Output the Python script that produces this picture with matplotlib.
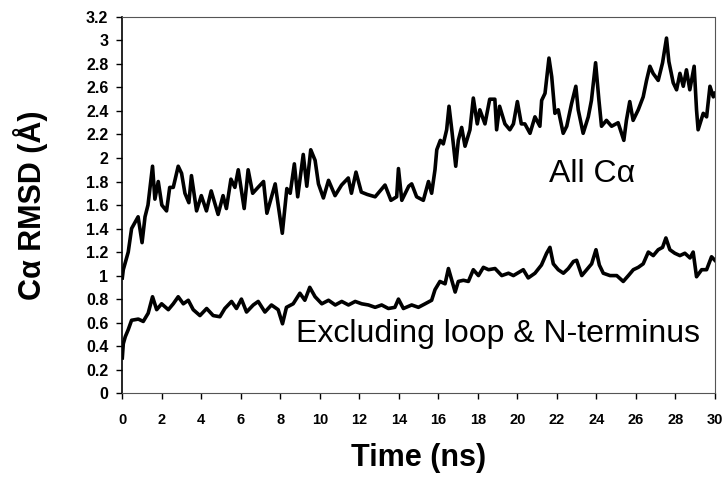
import matplotlib
matplotlib.use("Agg")
import matplotlib.pyplot as plt
from matplotlib.ticker import FuncFormatter, MultipleLocator

plt.rcParams.update({"font.family": ["Liberation Sans", "DejaVu Sans"], "font.size": 10})

# All C-alpha trace (time in ns, RMSD in A)
t_all = [0.0, 0.05, 0.3, 0.47, 0.8, 1.0, 1.15, 1.3, 1.53, 1.65, 1.82, 2.0, 2.24, 2.4, 2.58,
         2.83, 3.0, 3.17, 3.37, 3.5, 3.76, 4.0, 4.26, 4.5, 4.85, 5.1, 5.27, 5.5, 5.7, 5.87,
         6.17, 6.37, 6.6, 6.87, 7.15, 7.32, 7.74, 7.9, 8.1, 8.33, 8.5, 8.71, 8.88, 9.16,
         9.34, 9.54, 9.76, 9.93, 10.18, 10.44, 10.77, 11.1, 11.44, 11.6, 11.83, 12.1, 12.4,
         12.8, 13.3, 13.6, 13.89, 13.98, 14.15, 14.5, 14.65, 14.9, 15.24, 15.5, 15.66, 15.83,
         15.92, 16.1, 16.25, 16.42, 16.54, 16.68, 16.88, 17.01, 17.18, 17.35, 17.6, 17.77,
         17.97, 18.1, 18.36, 18.6, 18.86, 18.95, 19.1, 19.37, 19.62, 19.8, 20.0, 20.2, 20.38,
         20.64, 20.89, 21.14, 21.23, 21.4, 21.6, 21.74, 21.9, 22.07, 22.32, 22.5, 22.74,
         22.96, 23.08, 23.33, 23.59, 23.75, 23.96, 24.13, 24.26, 24.51, 24.77, 25.1, 25.39,
         25.52, 25.69, 25.86, 26.12, 26.37, 26.54, 26.71, 26.87, 27.13, 27.35, 27.55, 27.67,
         27.89, 28.06, 28.23, 28.4, 28.56, 28.73, 28.95, 29.07, 29.15, 29.41, 29.58, 29.75,
         29.92, 30.0]
rmsd_all = [0.98, 1.05, 1.2, 1.4, 1.5, 1.28, 1.5, 1.6, 1.93, 1.65, 1.8, 1.6, 1.55, 1.75, 1.75,
            1.93, 1.87, 1.7, 1.62, 1.85, 1.55, 1.68, 1.55, 1.72, 1.52, 1.68, 1.57, 1.82, 1.75,
            1.9, 1.57, 1.9, 1.7, 1.75, 1.8, 1.53, 1.78, 1.59, 1.36, 1.74, 1.7, 1.95, 1.67, 2.03,
            1.76, 2.07, 1.98, 1.78, 1.66, 1.81, 1.68, 1.77, 1.83, 1.7, 1.88, 1.71, 1.69, 1.67,
            1.77, 1.64, 1.67, 1.91, 1.64, 1.76, 1.78, 1.67, 1.64, 1.8, 1.7, 1.9, 2.07, 2.15,
            2.12, 2.24, 2.44, 2.24, 1.93, 2.15, 2.26, 2.1, 2.24, 2.51, 2.29, 2.41, 2.29, 2.5,
            2.5, 2.24, 2.44, 2.29, 2.24, 2.29, 2.48, 2.29, 2.29, 2.21, 2.35, 2.27, 2.49, 2.55,
            2.85, 2.69, 2.38, 2.41, 2.21, 2.27, 2.46, 2.61, 2.41, 2.21, 2.35, 2.49, 2.81, 2.49,
            2.27, 2.32, 2.27, 2.3, 2.15, 2.32, 2.48, 2.32, 2.41, 2.52, 2.66, 2.78, 2.72, 2.66,
            2.81, 3.02, 2.82, 2.64, 2.58, 2.72, 2.61, 2.75, 2.58, 2.78, 2.41, 2.24, 2.38, 2.35,
            2.61, 2.52, 2.55]

# Excluding loop & N-terminus trace
t_core = [0.0, 0.05, 0.15, 0.3, 0.47, 0.81, 1.06, 1.31, 1.53, 1.74, 1.99, 2.33, 2.58, 2.83,
          3.09, 3.34, 3.59, 3.93, 4.27, 4.6, 4.94, 5.19, 5.53, 5.78, 6.03, 6.29, 6.63, 6.88,
          7.22, 7.55, 7.89, 8.11, 8.31, 8.65, 8.99, 9.24, 9.49, 9.76, 10.1, 10.44, 10.78,
          11.11, 11.45, 11.79, 12.12, 12.46, 12.8, 13.13, 13.47, 13.8, 13.98, 14.23, 14.65,
          14.99, 15.33, 15.66, 15.83, 16.08, 16.34, 16.51, 16.68, 16.85, 17.01, 17.27, 17.52,
          17.77, 18.03, 18.28, 18.54, 18.87, 19.21, 19.55, 19.8, 20.0, 20.3, 20.55, 20.89,
          21.22, 21.48, 21.65, 21.82, 22.07, 22.33, 22.58, 22.84, 23.0, 23.26, 23.51, 23.76,
          23.98, 24.15, 24.35, 24.69, 25.03, 25.36, 25.62, 25.87, 26.12, 26.37, 26.63, 26.88,
          27.13, 27.35, 27.52, 27.72, 27.97, 28.23, 28.48, 28.74, 28.9, 29.07, 29.33, 29.58,
          29.83, 30.0]
rmsd_core = [0.3, 0.42, 0.48, 0.54, 0.62, 0.63, 0.61, 0.68, 0.82, 0.71, 0.76, 0.71, 0.76, 0.82,
             0.76, 0.79, 0.71, 0.66, 0.72, 0.66, 0.65, 0.72, 0.78, 0.72, 0.8, 0.69, 0.75, 0.78,
             0.69, 0.75, 0.71, 0.59, 0.73, 0.76, 0.85, 0.79, 0.9, 0.82, 0.76, 0.79, 0.75, 0.78,
             0.75, 0.78, 0.76, 0.75, 0.73, 0.75, 0.72, 0.73, 0.8, 0.72, 0.75, 0.73, 0.76, 0.79,
             0.88, 0.95, 0.93, 1.06, 0.96, 0.86, 0.95, 0.96, 0.95, 1.05, 1.0, 1.07, 1.05, 1.06,
             1.0, 1.02, 1.0, 1.02, 1.05, 0.98, 1.02, 1.09, 1.19, 1.24, 1.1, 1.05, 1.02, 1.06,
             1.12, 1.13, 1.0, 1.05, 1.1, 1.22, 1.09, 1.02, 1.0, 1.0, 0.95, 1.0, 1.05, 1.07, 1.1,
             1.2, 1.17, 1.22, 1.24, 1.32, 1.22, 1.19, 1.17, 1.19, 1.15, 1.2, 0.99, 1.05, 1.05,
             1.16, 1.13]

fig = plt.figure(figsize=(7.28, 4.83), dpi=100)
ax = fig.add_axes([0.168, 0.186, 0.814, 0.779])

ax.plot(t_all, rmsd_all, color="black", lw=2.6)
ax.plot(t_core, rmsd_core, color="black", lw=2.6)

ax.set_xlim(0, 30)
ax.set_ylim(0, 3.2)
ax.xaxis.set_major_locator(MultipleLocator(2))
ax.yaxis.set_major_locator(MultipleLocator(0.2))
ax.yaxis.set_major_formatter(FuncFormatter(lambda v, p: "%g" % round(v, 1)))
ax.tick_params(direction="out", length=4, width=1)
ax.tick_params(axis="x", labelsize=10.5, pad=10)
ax.tick_params(axis="y", labelsize=11.5, pad=6)
for lab in ax.get_xticklabels() + ax.get_yticklabels():
    lab.set_fontweight("bold")

# dotted frame except the left axis
for side in ["top", "right", "bottom"]:
    ax.spines[side].set_linestyle((0, (1, 1)))
    ax.spines[side].set_color("#555555")
ax.spines["left"].set_linewidth(1.2)

ax.text(23.8, 1.86, "All C\u03b1", fontsize=23, ha="center", va="center")
ax.text(8.8, 0.5, "Excluding loop & N-terminus", fontsize=23, ha="left", va="center")

ax.set_xlabel("Time (ns)", fontsize=22, fontweight="bold", labelpad=12)
ax.set_ylabel("C\u03b1 RMSD (\u00c5)", fontsize=22, fontweight="bold", labelpad=27)

fig.savefig("out.png", dpi=100)
